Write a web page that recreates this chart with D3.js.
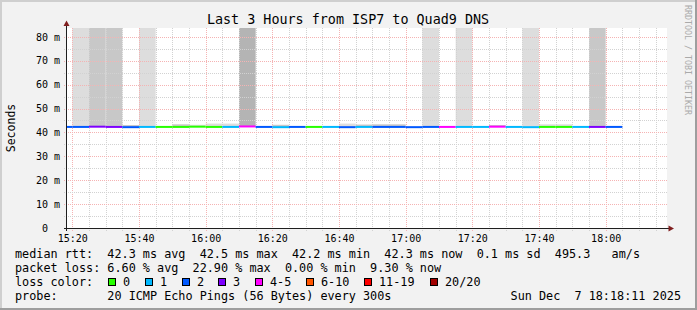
<!DOCTYPE html>
<html>
<head>
<meta charset="utf-8">
<script src="https://cdn.jsdelivr.net/npm/d3@7"></script>
<style>
  html, body { margin: 0; padding: 0; background: #f2f2f2; }
  svg { display: block; }
  text { font-family: "DejaVu Sans Mono", monospace; fill: #000; }
</style>
</head>
<body>
<svg width="697" height="310"></svg>
<script>
// start of each 5 minute step on the graph
const steps = ["15:15", "15:20", "15:25", "15:30", "15:35", "15:40", "15:45", "15:50",
  "15:55", "16:00", "16:05", "16:10", "16:15", "16:20", "16:25", "16:30", "16:35",
  "16:40", "16:45", "16:50", "16:55", "17:00", "17:05", "17:10", "17:15", "17:20",
  "17:25", "17:30", "17:35", "17:40", "17:45", "17:50", "17:55", "18:00"];
// median rtt per step (ms)
const median = [42.3, 42.3, 42.4, 42.3, 42.2, 42.3, 42.3, 42.3, 42.4, 42.3, 42.3, 42.5,
  42.3, 42.2, 42.3, 42.3, 42.3, 42.2, 42.3, 42.3, 42.3, 42.2, 42.3, 42.3, 42.3, 42.3,
  42.4, 42.3, 42.2, 42.3, 42.3, 42.3, 42.3, 42.3];
// lost pings out of 20 per step
const lostPings = [2, 2, 3, 3, 2, 1, 0, 0, 0, 0, 1, 4, 2, 1, 2, 0, 1, 2, 1, 2, 2, 2, 2,
  4, 1, 1, 4, 1, 1, 0, 0, 1, 3, 2];
// upper edge of the smoke per step (ms), null = no smoke visible
const smokeTop = [null, 100, 100, 100, 43.1, 100, null, 43.4, 43.2, 43.7, 43.7, 100,
  null, 43.2, null, null, null, 43.7, 43.3, 43.4, 43.4, null, 100, null, 100, null,
  43.1, null, 100, 43.4, 43.4, null, 100, null];
// smoke shade per step (0 none, 1 light, 2 mid, 3 dark)
const smokeShade = [0, 1, 2, 2, 2, 1, 0, 2, 1, 1, 1, 3, 0, 2, 0, 0, 0, 1, 2, 2, 2, 0, 1,
  0, 1, 0, 2, 0, 1, 1, 1, 0, 2, 0];
const shadeColors = ["none", "#dddddd", "#c8c8c8", "#b4b4b4"];

const yTicks = [0, 10, 20, 30, 40, 50, 60, 70, 80];

// loss colour legend
const lossLabels = ["0", "1", "2", "3", "4-5", "6-10", "11-19", "20/20"];
const lossLimits = [0, 1, 2, 3, 5, 10, 19, 20];
const lossColors = ["#26ff00", "#00b8ff", "#0059ff", "#7e00ff", "#ff00ff", "#ff5500",
  "#ff0000", "#a10000"];

const title = "Last 3 Hours from ISP7 to Quad9 DNS";
const rttLine = "median rtt:  42.3 ms avg  42.5 ms max  42.2 ms min  42.3 ms now  0.1 ms sd  495.3   am/s";
const lossLine = "packet loss: 6.60 % avg  22.90 % max  0.00 % min  9.30 % now";
const probeLine = "probe:       20 ICMP Echo Pings (56 Bytes) every 300s";
const dateLine = "Sun Dec  7 18:18:11 2025";

const svg = d3.select("svg");
const W = 697, H = 310;
const plot = { left: 67, right: 667, top: 28, bottom: 228 };

const parseTime = d3.timeParse("%H:%M:%S");
const parseStep = d3.timeParse("%H:%M");

const x = d3.scaleTime()
  .domain([parseTime("15:18:24"), parseTime("18:18:24")])
  .range([plot.left, plot.right]);
const y = d3.scaleLinear()
  .domain([0, 83.7])
  .range([plot.bottom, plot.top]);

const lossColor = (n) => lossColors[lossLimits.findIndex((l) => n <= l)];
const px = (v) => Math.round(v) + 0.5;
// keep runs of spaces like the rrdtool legend does
const keep = (s) => s.replace(/ /g, "\u00a0");

// background and 3d frame
svg.append("rect").attr("width", W).attr("height", H).attr("fill", "#f2f2f2");
svg.append("rect").attr("x", 0).attr("y", 0).attr("width", W).attr("height", 2).attr("fill", "#cfcfcf");
svg.append("rect").attr("x", 0).attr("y", 0).attr("width", 2).attr("height", H).attr("fill", "#cfcfcf");
svg.append("rect").attr("x", 0).attr("y", H - 2).attr("width", W).attr("height", 2).attr("fill", "#9e9e9e");
svg.append("rect").attr("x", W - 2).attr("y", 0).attr("width", 2).attr("height", H).attr("fill", "#9e9e9e");

// canvas
svg.append("rect")
  .attr("x", plot.left).attr("y", plot.top)
  .attr("width", plot.right - plot.left).attr("height", plot.bottom - plot.top)
  .attr("fill", "#ffffff");

svg.append("clipPath").attr("id", "clip")
  .append("rect")
  .attr("x", plot.left).attr("y", plot.top)
  .attr("width", plot.right - plot.left).attr("height", plot.bottom - plot.top);

const data = steps.map((s, i) => {
  const t0 = parseStep(s);
  return {
    t0,
    t1: d3.timeMinute.offset(t0, 5),
    median: median[i],
    lost: lostPings[i],
    top: smokeTop[i],
    shade: smokeShade[i],
  };
});

// smoke
svg.append("g").attr("clip-path", "url(#clip)")
  .selectAll("rect")
  .data(data.filter((d) => d.top !== null))
  .enter()
  .append("rect")
  .attr("x", (d) => x(d.t0))
  .attr("width", (d) => x(d.t1) - x(d.t0))
  .attr("y", (d) => y(d.top))
  .attr("height", (d) => y(d.median) - y(d.top))
  .attr("fill", (d) => shadeColors[d.shade]);

// grid
const grid = svg.append("g").attr("stroke-dasharray", "1,1").attr("stroke-width", 1);
const minorX = x.ticks(d3.timeMinute.every(5));
const majorX = x.ticks(d3.timeMinute.every(20)).map((d) => +d);
const minorY = y.ticks(16).filter((v) => v > 0);

grid.selectAll(".vgrid")
  .data(minorX)
  .enter()
  .append("line")
  .attr("x1", (d) => px(x(d))).attr("x2", (d) => px(x(d)))
  .attr("y1", plot.top).attr("y2", plot.bottom + 3)
  .attr("stroke", (d) => (majorX.includes(+d) ? "#f5b3b3" : "#d2d2d2"));

grid.selectAll(".hgrid")
  .data(minorY)
  .enter()
  .append("line")
  .attr("x1", plot.left - 3).attr("x2", plot.right)
  .attr("y1", (d) => px(y(d))).attr("y2", (d) => px(y(d)))
  .attr("stroke", (d) => (d % 10 === 0 ? "#f5b3b3" : "#d2d2d2"));

// median line coloured by loss
svg.append("g").attr("clip-path", "url(#clip)")
  .selectAll("line")
  .data(data)
  .enter()
  .append("line")
  .attr("x1", (d) => x(d.t0))
  .attr("x2", (d) => x(d.t1))
  .attr("y1", (d) => y(d.median))
  .attr("y2", (d) => y(d.median))
  .attr("stroke", (d) => lossColor(d.lost))
  .attr("stroke-width", 2);

// axes
svg.append("line")
  .attr("x1", plot.left - 0.5).attr("x2", plot.left - 0.5)
  .attr("y1", plot.bottom + 3).attr("y2", 24)
  .attr("stroke", "#1f1f1f");
svg.append("line")
  .attr("x1", plot.left - 3).attr("x2", 670)
  .attr("y1", plot.bottom + 0.5).attr("y2", plot.bottom + 0.5)
  .attr("stroke", "#1f1f1f");
svg.append("path")
  .attr("d", `M${plot.left - 3.5},26 L${plot.left + 2.5},26 L${plot.left - 0.5},20.5 Z`)
  .attr("fill", "#801f1f");
svg.append("path")
  .attr("d", `M668.5,${plot.bottom - 2.5} L668.5,${plot.bottom + 3.5} L674,${plot.bottom + 0.5} Z`)
  .attr("fill", "#801f1f");

const xAxis = d3.axisBottom(x)
  .ticks(d3.timeMinute.every(20))
  .tickFormat(d3.timeFormat("%H:%M"))
  .tickSize(0)
  .tickPadding(6.5);
svg.append("g")
  .attr("transform", `translate(0,${plot.bottom})`)
  .call(xAxis)
  .call((g) => g.select(".domain").remove())
  .selectAll("text")
  .attr("font-family", "DejaVu Sans Mono")
  .attr("font-size", 10)
  .attr("fill", "#000");

const yAxis = d3.axisLeft(y)
  .tickValues(yTicks)
  .tickFormat((v) => keep(v ? `${v} m` : "0  "))
  .tickSize(0)
  .tickPadding(7);
svg.append("g")
  .attr("transform", `translate(${plot.left},0)`)
  .call(yAxis)
  .call((g) => g.select(".domain").remove())
  .selectAll("text")
  .attr("font-family", "DejaVu Sans Mono")
  .attr("font-size", 10)
  .attr("fill", "#000");

// titles
svg.append("text")
  .attr("x", 348).attr("y", 24)
  .attr("text-anchor", "middle")
  .attr("font-size", 13.4)
  .text(title);

svg.append("text")
  .attr("transform", `translate(14.5,${(plot.top + plot.bottom) / 2}) rotate(-90)`)
  .attr("text-anchor", "middle")
  .attr("font-size", 11.5)
  .text("Seconds");

svg.append("text")
  .attr("transform", "translate(685,5) rotate(90)")
  .attr("font-size", 8.3)
  .style("fill", "#aaaaaa")
  .text("RRDTOOL / TOBI OETIKER");

// legend
const legend = svg.append("g").attr("font-size", 11.8);
legend.append("text").attr("x", 15).attr("y", 258).text(keep(rttLine));
legend.append("text").attr("x", 15).attr("y", 272).text(keep(lossLine));
legend.append("text").attr("x", 15).attr("y", 286).text("loss color:");
legend.append("text").attr("x", 15).attr("y", 300).text(keep(probeLine));
legend.append("text").attr("x", 681).attr("y", 300).attr("text-anchor", "end").text(keep(dateLine));

let bx = 108;
const boxPos = lossLabels.map((l) => {
  const p = bx;
  bx += 29.7 + l.length * 7.1;
  return p;
});
const items = legend.selectAll(".loss-item")
  .data(lossLabels)
  .enter()
  .append("g")
  .attr("transform", (d, i) => `translate(${Math.round(boxPos[i])},0)`);
items.append("rect")
  .attr("x", 0.5).attr("y", 278.5)
  .attr("width", 7).attr("height", 7)
  .attr("fill", (d, i) => lossColors[i])
  .attr("stroke", "#000");
items.append("text")
  .attr("x", 15).attr("y", 286)
  .text((d) => d);
</script>
</body>
</html>
